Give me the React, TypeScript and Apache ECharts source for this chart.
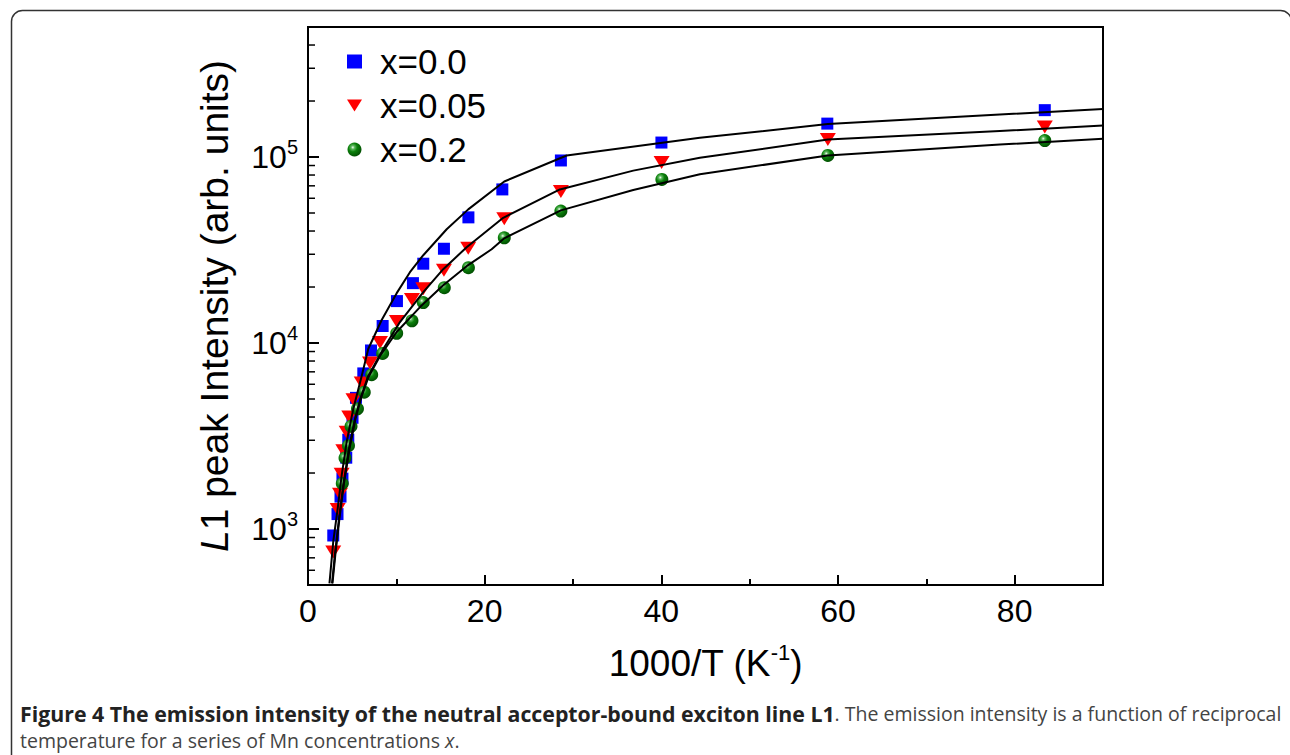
import React, { useEffect, useRef } from 'react';
import * as echarts from 'echarts';

// ---------- data ----------
const seriesNames = ['x=0.0', 'x=0.05', 'x=0.2'];

// x = 0.0 (blue squares)
const x00X = [83.41, 58.79, 40.01, 28.63, 22.0, 18.16, 15.39, 13.05, 11.88, 10.07, 8.45, 7.13, 6.26, 5.43, 5.04, 4.56, 4.33, 3.9, 3.68, 3.34, 2.86];
const x00Y = [178600, 151200, 119600, 95800, 66950, 47370, 32120, 26690, 20980, 16800, 12340, 9117, 6863, 5071, 3962, 3019, 2418, 1866, 1494, 1203, 923];

// x = 0.05 (red triangles)
const x05X = [83.41, 58.85, 40.03, 28.63, 22.22, 18.14, 15.39, 13.05, 11.77, 10.07, 8.15, 7.02, 6.08, 5.15, 4.67, 4.38, 4.0, 3.81, 3.62, 3.36, 2.86];
const x05Y = [144800, 124100, 93430, 65310, 46510, 32320, 24630, 19600, 17110, 13040, 10060, 7815, 6103, 4948, 3996, 3312, 2636, 1972, 1540, 1272, 753];

// x = 0.2 (green spheres)
const x20X = [83.41, 58.85, 40.06, 28.63, 22.22, 18.16, 15.43, 13.05, 11.77, 10.04, 8.45, 7.21, 6.37, 5.6, 4.87, 4.58, 4.19, 3.88];
const x20Y = [122600, 101900, 75750, 51220, 36790, 25400, 19840, 16490, 13170, 11270, 8785, 6761, 5441, 4428, 3567, 2804, 2409, 1754];

// fitted curves
const fit00X = [2.43, 2.86, 3.36, 3.81, 4.38, 5.13, 6.08, 6.82, 8.34, 10.04, 11.54, 13.05, 15.7, 18.14, 22.22, 29.28, 44.36, 58.85, 78.32, 90];
const fit00Y = [510, 857, 1288, 1936, 2946, 4428, 6655, 9287, 13290, 18540, 24030, 29640, 40870, 52300, 73880, 101900, 126800, 150300, 169000, 181300];

const fit05X = [2.72, 3.06, 3.51, 4.02, 4.64, 5.32, 6.0, 6.82, 8.52, 10.41, 13.05, 15.31, 17.96, 22.1, 28.52, 36.82, 44.36, 58.85, 78.32, 90];
const fit05Y = [510, 739, 1138, 1754, 2701, 3913, 5134, 6655, 9287, 12960, 18770, 24940, 32720, 47090, 66950, 84500, 99000, 124100, 137900, 147500];

const fit20X = [2.77, 3.11, 3.56, 4.07, 4.7, 5.38, 6.05, 6.85, 8.15, 10.04, 12.68, 15.31, 17.96, 20.79, 22.22, 28.63, 36.82, 44.36, 58.85, 78.32, 90];
const fit20Y = [510, 739, 1138, 1754, 2701, 3913, 5134, 6573, 8517, 11460, 15600, 20460, 25880, 31920, 36560, 51660, 66400, 80800, 101900, 116700, 125200];

// axis ticks
const xMajorTicks = [0, 20, 40, 60, 80];
const yMinorTicks = [600, 700, 800, 900, 2000, 3000, 4000, 5000, 6000, 7000, 8000, 9000,
  20000, 30000, 40000, 50000, 60000, 70000, 80000, 90000, 200000, 300000, 400000];

const xTitle = '1000/T (K';
const xTitleSup = '-1';
const yTitleItalic = 'L';
const yTitleRest = '1 peak Intensity (arb. units)';

const captionBold = 'Figure 4 The emission intensity of the neutral acceptor-bound exciton line L1';
const captionLine1 = '. The emission intensity is a function of reciprocal';
const captionLine2 = 'temperature for a series of Mn concentrations ';
const captionItalic = 'x';

const FONT = '"Liberation Sans", Arial, sans-serif';
const CAP_FONT = '"Open Sans", sans-serif';

const zip = (xs: number[], ys: number[]) => xs.map((x, i) => [x, ys[i]]);

export default function App() {
  const ref = useRef<HTMLDivElement>(null);
  useEffect(() => {
    if (!ref.current) return;
    const chart = echarts.init(ref.current, undefined, { renderer: 'svg' });
    const sphere = new echarts.graphic.RadialGradient(0.38, 0.35, 0.7, [
      { offset: 0, color: '#f4fff4' },
      { offset: 0.18, color: '#5fb85f' },
      { offset: 0.45, color: '#0b800b' },
      { offset: 1, color: '#004a00' },
    ]);
    const option: any = {
      animation: false,
      backgroundColor: '#fff',
      grid: { left: 308, top: 27, width: 795, height: 558, show: true, borderColor: '#000', borderWidth: 2, backgroundColor: 'transparent' },
      legend: {
        data: [
          { name: seriesNames[0], icon: 'rect' },
          { name: seriesNames[1], icon: 'path://M0,0L16,0L8,13Z' },
          { name: seriesNames[2], icon: 'circle' },
        ],
        orient: 'vertical',
        left: 342,
        top: 39,
        itemWidth: 15,
        itemHeight: 14,
        itemGap: 9,
        textStyle: { fontSize: 35, fontFamily: FONT, color: '#000', padding: [0, 0, 0, 13] },
      },
      xAxis: [
        {
          type: 'value', min: 0, max: 90, interval: 20, position: 'bottom',
          axisLine: { show: true, lineStyle: { color: '#000', width: 2 } },
          axisTick: { inside: true, length: 10, lineStyle: { color: '#000', width: 2 } },
          axisLabel: {
            color: '#000', fontSize: 32, fontFamily: FONT, margin: 10,
            formatter: (v: number) => (xMajorTicks.indexOf(v) >= 0 ? String(v) : ''),
          },
          splitLine: { show: false },
          name: `{t|${xTitle}}{s|${xTitleSup}}{t|)}`,
          nameLocation: 'middle',
          nameGap: 56,
          nameTextStyle: {
            rich: {
              t: { fontSize: 37, fontFamily: FONT, color: '#000', lineHeight: 44 },
              s: { fontSize: 22, fontFamily: FONT, color: '#000', verticalAlign: 'top', lineHeight: 22 },
            },
          },
        },
        {
          type: 'value', min: 0, max: 90, interval: 10, position: 'bottom',
          axisLine: { show: false },
          axisTick: { inside: true, length: 6, lineStyle: { color: '#000', width: 2 } },
          axisLabel: { show: false },
          splitLine: { show: false },
        },
      ],
      yAxis: {
        type: 'log', logBase: 10, min: 500, max: 500000,
        axisLine: { show: true, lineStyle: { color: '#000', width: 2 } },
        axisTick: { inside: true, length: 11, lineStyle: { color: '#000', width: 2 } },
        axisLabel: {
          margin: 10,
          formatter: (v: number) => {
            const l = Math.log10(v);
            const r = Math.round(l);
            return Math.abs(l - r) < 1e-6 ? `{b|10}{s|${r}}` : '';
          },
          rich: {
            b: { fontSize: 32, fontFamily: FONT, color: '#000', lineHeight: 40 },
            s: { fontSize: 20, fontFamily: FONT, color: '#000', verticalAlign: 'top', lineHeight: 20 },
          },
        },
        splitLine: { show: false },
        name: `{i|${yTitleItalic}}{t|${yTitleRest}}`,
        nameLocation: 'middle',
        nameRotate: 90,
        nameGap: 74,
        nameTextStyle: {
          rich: {
            i: { fontSize: 39, fontFamily: FONT, fontStyle: 'italic', color: '#000' },
            t: { fontSize: 39, fontFamily: FONT, color: '#000' },
          },
        },
      },
      series: [
        {
          name: seriesNames[0], type: 'scatter', symbol: 'rect', symbolSize: 12,
          itemStyle: { color: '#0000ff', opacity: 1 }, data: zip(x00X, x00Y), z: 2,
        },
        {
          name: seriesNames[1], type: 'scatter', symbol: 'triangle', symbolSize: [16, 13], symbolRotate: 180,
          itemStyle: { color: '#ff0000', opacity: 1 }, data: zip(x05X, x05Y), z: 2,
        },
        {
          name: seriesNames[2], type: 'scatter', symbol: 'circle', symbolSize: 13,
          itemStyle: { color: sphere, opacity: 1 }, data: zip(x20X, x20Y), z: 2,
        },
        { name: 'fit0', type: 'line', data: zip(fit00X, fit00Y), showSymbol: false, symbol: 'none', lineStyle: { color: '#000', width: 2 }, z: 3, clip: true },
        { name: 'fit1', type: 'line', data: zip(fit05X, fit05Y), showSymbol: false, symbol: 'none', lineStyle: { color: '#000', width: 2 }, z: 3, clip: true },
        { name: 'fit2', type: 'line', data: zip(fit20X, fit20Y), showSymbol: false, symbol: 'none', lineStyle: { color: '#000', width: 2 }, z: 3, clip: true },
        {
          name: 'minorTicks', type: 'custom', silent: true, z: 4,
          data: yMinorTicks.map((v) => [0, v]),
          renderItem: (_p: any, api: any) => {
            const p = api.coord([0, api.value(1)]);
            return { type: 'line', shape: { x1: p[0], y1: p[1], x2: p[0] + 7, y2: p[1] }, style: { stroke: '#000', lineWidth: 1.5 } };
          },
        },
      ],
      graphic: [
        {
          type: 'rect', left: 9, top: 8, silent: true,
          shape: { width: 1280, height: 770, r: 11 },
          style: { fill: 'none', stroke: '#333', lineWidth: 1.5 },
        },
        {
          type: 'text', x: 20, y: 713,
          style: {
            text: `{b|${captionBold}}{n|${captionLine1}}`,
            verticalAlign: 'middle',
            rich: {
              b: { fontSize: 21.3, fontFamily: CAP_FONT, fontWeight: 'bold', fill: '#222' },
              n: { fontSize: 19.5, fontFamily: CAP_FONT, fill: '#444' },
            },
          },
        },
        {
          type: 'text', x: 20, y: 740,
          style: {
            text: `{n|${captionLine2}}{i|${captionItalic}}{n|.}`,
            verticalAlign: 'middle',
            rich: {
              n: { fontSize: 19.5, fontFamily: CAP_FONT, fill: '#444' },
              i: { fontSize: 19.5, fontFamily: CAP_FONT, fontStyle: 'italic', fill: '#444' },
            },
          },
        },
      ],
    };
    chart.setOption(option);
    return () => chart.dispose();
  }, []);
  return <div ref={ref} style={{ position: 'absolute', left: 0, top: 0, width: 1290, height: 755 }} />;
}
